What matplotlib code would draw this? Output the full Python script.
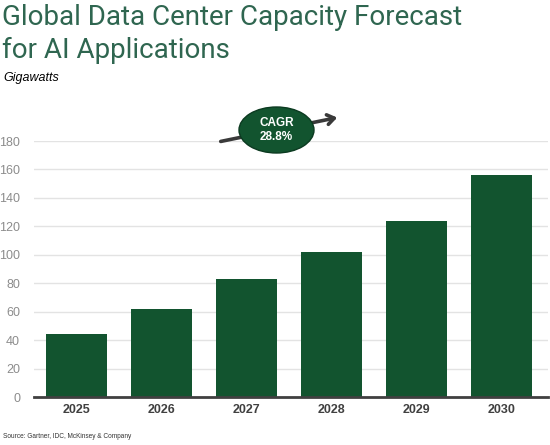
import matplotlib.pyplot as plt
from matplotlib.patches import Ellipse, FancyArrowPatch

plt.rcParams['font.family'] = ['Liberation Sans', 'DejaVu Sans']

years = ['2025', '2026', '2027', '2028', '2029', '2030']
capacity_gw = [44, 62, 83, 102, 124, 156]
y_ticks = [0, 20, 40, 60, 80, 100, 120, 140, 160, 180]
cagr_label = 'CAGR\n28.8%'

green = '#12542f'
title_color = '#2f6650'

fig = plt.figure(figsize=(5.5, 4.45), dpi=100)
ax = fig.add_axes([34 / 550, 48 / 445, 514 / 550, 256 / 445])

x = range(len(years))
ax.bar(x, capacity_gw, width=0.72, color=green, zorder=2)

ax.set_xlim(-0.5, 5.55)
ax.set_ylim(0, 180)
ax.set_yticks(y_ticks)
ax.set_xticks(list(x))
ax.set_xticklabels(years, fontweight='bold', fontsize=9, color='#404040')
ax.tick_params(axis='y', length=0, pad=10, labelsize=9, labelcolor='#8c8c8c')
ax.tick_params(axis='x', length=0, pad=5)
ax.grid(axis='y', color='#e3e3e3', linewidth=1, zorder=0)

for side in ['top', 'right', 'left']:
    ax.spines[side].set_visible(False)
ax.spines['bottom'].set_color('#404040')
ax.spines['bottom'].set_linewidth(2)
ax.spines['bottom'].set_zorder(3)

# titles
fig.text(2 / 550, 1 - 4 / 445, 'Global Data Center Capacity Forecast\nfor AI Applications',
         fontsize=20, family='Roboto', color=title_color, va='top',
         linespacing=1.3)
fig.text(3 / 550, 1 - 78 / 445, 'Gigawatts', fontsize=9, style='italic',
         color='black', va='center')
fig.text(3 / 550, 1 - 437 / 445, 'Source: Gartner, IDC, McKinsey & Company',
         fontsize=4.7, color='#333333', va='center')

# CAGR badge
arrow = FancyArrowPatch((218 / 550, 1 - 142 / 445), (340 / 550, 1 - 117 / 445),
                        transform=fig.transFigure,
                        arrowstyle='->,head_length=5,head_width=3.5',
                        color='#3a3a3a', linewidth=2.6, zorder=5)
fig.patches.append(arrow)
badge = Ellipse((276.5 / 550, 1 - 130 / 445), 75 / 550, 46 / 445,
                transform=fig.transFigure, facecolor=green,
                edgecolor='#0b3a20', linewidth=1, zorder=6)
fig.patches.append(badge)
fig.text(276.5 / 550, 1 - 130 / 445, cagr_label, ha='center', va='center',
         color='white', fontweight='bold', fontsize=8.5, zorder=7,
         linespacing=1.3)

fig.savefig('out.png', dpi=100)
